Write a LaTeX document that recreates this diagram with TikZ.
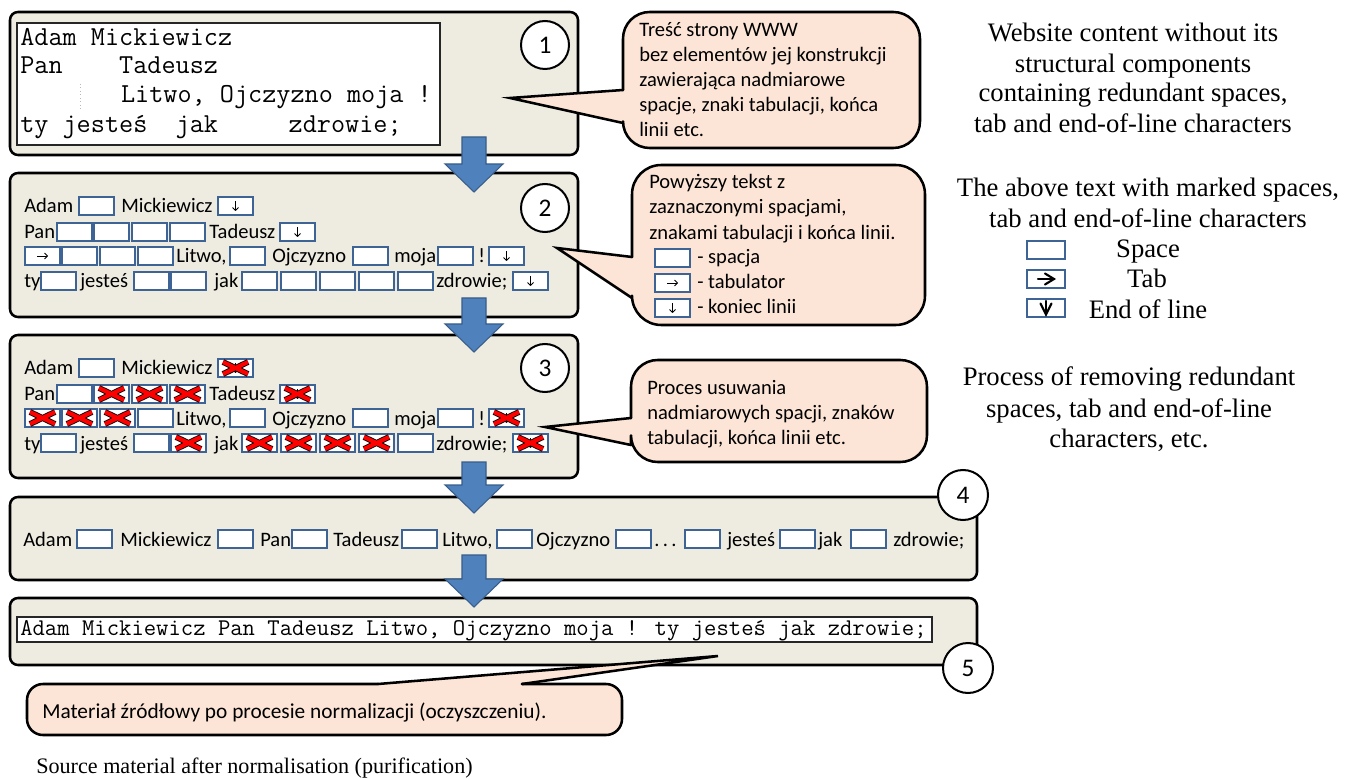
\documentclass[tikz,border=0pt]{standalone}
\usepackage{fontspec}
\setmainfont{Carlito}
\newfontfamily\tnr{Liberation Serif}
\usetikzlibrary{arrows.meta}
\definecolor{panelfill}{RGB}{238,236,225}
\definecolor{callfill}{RGB}{252,229,214}
\definecolor{boxblue}{RGB}{62,100,150}
\definecolor{arrfill}{RGB}{79,129,189}
\definecolor{arrline}{RGB}{56,93,138}
\newcounter{nb}
\newcounter{nw}
\tikzset{
  panel/.style={draw=black, line width=1.9pt, fill=panelfill, rounded corners=6pt},
  spbox/.style={draw=boxblue, line width=1.5pt, fill=white, minimum width=26.25pt, minimum height=13.5pt, inner sep=0pt},
  word/.style={anchor=base west, inner sep=0pt, font=\fontsize{15.4}{18}\selectfont},
  thinarr/.style={line width=0.6pt, -{Straight Barb[length=2.2pt,width=4.5pt]}},
  xblk/.style={black, line width=4.4pt, line cap=square},
  xred/.style={red, line width=3.1pt, line cap=butt},
  numc/.style={circle, draw=black, line width=1.5pt, fill=white, minimum size=36pt, inner sep=0pt, font=\fontsize{19}{20}\selectfont},
  blockarrow/.style={fill=arrfill, draw=arrline, line width=0.8pt, line join=miter},
  cfill/.style={fill=callfill},
  cline/.style={draw=black, line width=1.9pt, line cap=round, line join=round},
  ctext/.style={anchor=base west, inner sep=0pt, font=\fontsize{15.4}{18}\selectfont},
  eng/.style={anchor=base, inner sep=0pt, font=\tnr\fontsize{20}{24}\selectfont},
  monotxt/.style={anchor=base west, inner sep=0pt, font=\ttfamily\fontsize{20.57}{22}\selectfont},
  whitebox/.style={fill=white, draw=black!85, line width=0.8pt},
  legarr/.style={line width=1.6pt, line cap=round, line join=miter}
}
\newcommand{\bxS}[2]{\stepcounter{nb}\node[spbox] (b\arabic{nb}) at ({#1+17.5},#2) {};}
\newcommand{\bxE}[2]{\bxS{#1}{#2}\draw[thinarr] ({#1+17.5},{#2-5}) -- ({#1+17.5},{#2+5});}
\newcommand{\bxT}[2]{\bxS{#1}{#2}\draw[thinarr] ({#1+12},#2) -- ({#1+23},#2);}
\newcommand{\xmk}[2]{%
  \draw[xblk] ({#1+5},{#2-6}) -- ({#1+30},{#2+6}) ({#1+5},{#2+6}) -- ({#1+30},{#2-6});
  \draw[xred] ({#1+5},{#2-6}) -- ({#1+30},{#2+6}) ({#1+5},{#2+6}) -- ({#1+30},{#2-6});}
\newcommand{\bxSX}[2]{\bxS{#1}{#2}\xmk{#1}{#2}}
\newcommand{\bxEX}[2]{\bxE{#1}{#2}\xmk{#1}{#2}}
\newcommand{\bxTX}[2]{\bxT{#1}{#2}\xmk{#1}{#2}}
\newcommand{\wrd}[3]{\stepcounter{nw}\node[word] (w\arabic{nw}) at (#1,#2) {#3};}
\newcommand{\darr}[2]{\draw[blockarrow] (462,#1) -- (486,#1) -- (486,{#2-28}) -- (503,{#2-28}) -- (474,#2) -- (445,{#2-28}) -- (462,{#2-28}) -- cycle;}

\begin{document}
\begin{tikzpicture}[x=0.75pt,y=-0.75pt]
\useasboundingbox (0,0) rectangle (1356,780);

% ---------- panels
\draw[panel] (10,12) rectangle (578,155);
\draw[panel] (10,173) rectangle (578,317);
\draw[panel] (10,335) rectangle (578,478);
\draw[panel] (10,497) rectangle (977,580);
\draw[panel] (10,598) rectangle (977,665);

% ---------- panel 1
\draw[whitebox] (17,23) rectangle (440,145);
\node[monotxt] (m1) at (20,46) {Adam Mickiewicz};
\node[monotxt] (m2) at (20,74) {Pan\ \ \ \ Tadeusz};
\node[monotxt] (m3) at (120.8,103) {Litwo, Ojczyzno moja !};
\node[monotxt] (m4) at (20,133) {ty jesteś\ \ jak\ \ \ \ \ zdrowie;};
\draw[gray!55, dotted, line width=0.6pt] (80,84) -- (80,110);
\node[numc] (n1) at (545,45) {1};

% ---------- panel 2
\wrd{24}{213}{Adam} \bxS{79}{206} \wrd{121}{213}{Mickiewicz} \bxE{218}{206}
\wrd{24}{239}{Pan} \bxS{57}{232} \bxS{94}{232} \bxS{132}{232} \bxS{170}{232} \wrd{209}{239}{Tadeusz} \bxE{280}{232}
\bxT{25}{256} \bxS{62}{256} \bxS{100}{256} \bxS{138}{256} \wrd{176}{263}{Litwo,} \bxS{230}{256} \wrd{272}{263}{Ojczyzno} \bxS{353}{256} \wrd{394}{263}{moja} \bxS{438}{256} \wrd{478}{263}{!} \bxE{489}{256}
\wrd{24}{288}{ty} \bxS{41}{281} \wrd{80}{288}{jesteś} \bxS{134}{281} \bxS{171}{281} \wrd{214}{288}{jak} \bxS{242}{281} \bxS{281}{281} \bxS{320}{281} \bxS{359}{281} \bxS{398}{281} \wrd{436}{288}{zdrowie;} \bxE{513}{281}
\node[numc] (n2) at (545,208) {2};

% ---------- panel 3
\wrd{24}{375}{Adam} \bxS{79}{368} \wrd{121}{375}{Mickiewicz} \bxEX{218}{368}
\wrd{24}{401}{Pan} \bxS{57}{394} \bxSX{94}{394} \bxSX{132}{394} \bxSX{170}{394} \wrd{209}{401}{Tadeusz} \bxEX{280}{394}
\bxTX{25}{418} \bxSX{62}{418} \bxSX{100}{418} \bxS{138}{418} \wrd{176}{425}{Litwo,} \bxS{230}{418} \wrd{272}{425}{Ojczyzno} \bxS{353}{418} \wrd{394}{425}{moja} \bxS{438}{418} \wrd{478}{425}{!} \bxEX{489}{418}
\wrd{24}{450}{ty} \bxS{41}{443} \wrd{80}{450}{jesteś} \bxS{134}{443} \bxSX{171}{443} \wrd{214}{450}{jak} \bxSX{242}{443} \bxSX{281}{443} \bxSX{320}{443} \bxSX{359}{443} \bxS{398}{443} \wrd{436}{450}{zdrowie;} \bxEX{513}{443}
\node[numc] (n3) at (545,368) {3};

% ---------- panel 4
\wrd{23}{546}{Adam} \bxS{77}{539} \wrd{120}{546}{Mickiewicz} \bxS{218}{539} \wrd{260}{546}{Pan} \bxS{292}{539} \wrd{333}{546}{Tadeusz} \bxS{402}{539} \wrd{442}{546}{Litwo,} \bxS{497}{539} \wrd{536}{546}{Ojczyzno} \bxS{616}{539} \wrd{654}{546}{.\,.\,.} \bxS{685}{539} \wrd{727}{546}{jesteś} \bxS{780}{539} \wrd{818}{546}{jak} \bxS{851}{539} \wrd{893}{546}{zdrowie;}
\node[numc, minimum size=37.5pt] (n4) at (963,495) {4};

% ---------- panel 5
\draw[whitebox] (17,617) rectangle (932,642);
\node[anchor=base west, inner sep=0pt, font=\ttfamily\fontsize{18}{20}\selectfont] (m5) at (20,635) {Adam Mickiewicz Pan Tadeusz Litwo, Ojczyzno moja ! ty jesteś jak zdrowie;};
\node[numc, minimum size=37.5pt] (n5) at (968,668) {5};

% ---------- block arrows
\darr{137}{192}
\darr{298}{352}
\darr{462}{513}
\darr{555}{607}

% ---------- callout 1
\fill[cfill, rounded corners=20] (623,12) rectangle (920,148);
\fill[cfill] (623,90) -- (510,98) -- (623,123) -- cycle;
\draw[cline, rounded corners=20] (623,123) -- (623,148) -- (920,148) -- (920,12) -- (623,12) -- (623,90);
\draw[cline, line join=miter] (623,90) -- (510,98) -- (623,123);
\node[ctext] (t11) at (639,37) {Treść strony WWW};
\node[ctext] (t12) at (639,62) {bez elementów jej konstrukcji};
\node[ctext] (t13) at (639,87) {zawierająca nadmiarowe};
\node[ctext] (t14) at (639,112) {spacje, znaki tabulacji, końca};
\node[ctext] (t15) at (639,137) {linii etc.};

% ---------- callout 2
\fill[cfill, rounded corners=22] (632,165) rectangle (925,325);
\fill[cfill] (632,257) -- (557,248) -- (632,298) -- cycle;
\draw[cline, rounded corners=22] (632,298) -- (632,325) -- (925,325) -- (925,165) -- (632,165) -- (632,257);
\draw[cline, line join=miter] (632,257) -- (557,248) -- (632,298);
\node[ctext] (t21) at (649,189) {Powyższy tekst z};
\node[ctext] (t22) at (649,214) {zaznaczonymi spacjami,};
\node[ctext] (t23) at (649,240) {znakami tabulacji i końca linii.};
\bxS{655}{258} \node[ctext] (t24) at (697,264) {- spacja};
\bxT{655}{283} \node[ctext] (t25) at (697,289) {- tabulator};
\bxE{655}{308} \node[ctext] (t26) at (697,314) {- koniec linii};

% ---------- callout 3
\fill[cfill, rounded corners=20] (631,360) rectangle (927,462);
\fill[cfill] (631,418) -- (545,427) -- (631,445) -- cycle;
\draw[cline, rounded corners=20] (631,445) -- (631,462) -- (927,462) -- (927,360) -- (631,360) -- (631,418);
\draw[cline, line join=miter] (631,418) -- (545,427) -- (631,445);
\node[ctext] (t31) at (647,394) {Proces usuwania};
\node[ctext] (t32) at (647,419) {nadmiarowych spacji, znaków};
\node[ctext] (t33) at (647,444) {tabulacji, końca linii etc.};

% ---------- callout 5
\fill[cfill, rounded corners=12] (27,684) rectangle (622,735);
\fill[cfill] (378,684) -- (718,656) -- (522,684) -- cycle;
\draw[cline, rounded corners=12] (522,684) -- (622,684) -- (622,735) -- (27,735) -- (27,684) -- (378,684);
\draw[cline, line join=miter] (378,684) -- (718,656) -- (522,684);
\node[anchor=base west, inner sep=0pt, font=\fontsize{16}{18}\selectfont] (t51) at (42,718) {Materiał źródłowy po procesie normalizacji (oczyszczeniu).};

% ---------- English descriptions
\node[eng] (e11) at (1133,42) {Website content without its};
\node[eng] (e12) at (1133,73) {structural components};
\node[eng] (e13) at (1133,102) {containing redundant spaces,};
\node[eng] (e14) at (1133,133) {tab and end-of-line characters};
\node[eng] (e21) at (1148,197) {The above text with marked spaces,};
\node[eng] (e22) at (1148,228) {tab and end-of-line characters};
\node[spbox, minimum width=28.5pt] (l1) at (1046,250) {};
\node[spbox, minimum width=28.5pt] (l2) at (1046,279) {};
\node[spbox, minimum width=28.5pt] (l3) at (1046,308.5) {};
\draw[legarr] (1038,279) -- (1054,279);
\draw[legarr] (1045,273.5) -- (1054,279) -- (1045,284.5);
\draw[legarr] (1046,301) -- (1046,314.5);
\draw[legarr] (1040.5,303.5) -- (1046,314.5) -- (1051.5,303.5);
\node[eng] (e23) at (1148,258) {Space};
\node[eng] (e24) at (1147,288) {Tab};
\node[eng] (e25) at (1148,319) {End of line};
\node[eng] (e31) at (1129,386) {Process of removing redundant};
\node[eng] (e32) at (1129,417) {spaces, tab and end-of-line};
\node[eng] (e33) at (1129,447) {characters, etc.};
\node[anchor=base west, inner sep=0pt, font=\tnr\fontsize{16.6}{20}\selectfont] (e5) at (36,773) {Source material after normalisation (purification)};
\end{tikzpicture}
\end{document}
